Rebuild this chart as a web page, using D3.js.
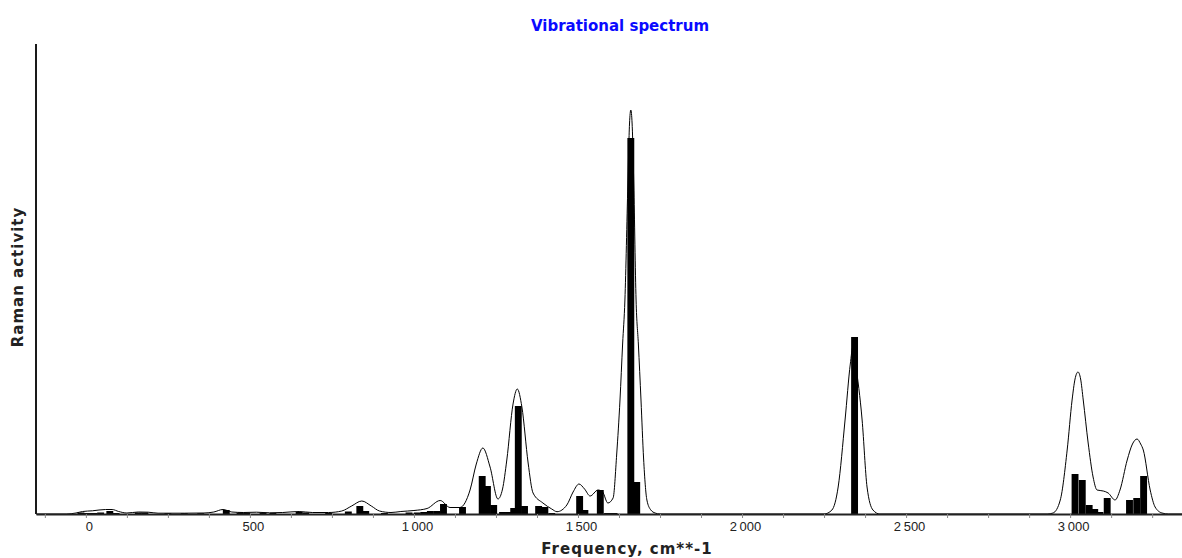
<!DOCTYPE html>
<html>
<head>
<meta charset="utf-8">
<script src="https://cdn.jsdelivr.net/npm/d3@7"></script>
<style>
  body { margin: 0; background: #fff; }
  svg { display: block; font-family: Arial, "Liberation Sans", sans-serif; }
</style>
</head>
<body>
<script>
// stick spectrum: [frequency cm-1, Raman activity]
const sticks = [
  [-15, 1.5], [5, 1], [25, 1], [45, 1.5], [73, 3], [92, 1], [160, 1.5], [180, 1.5],
  [250, 0.8], [300, 0.8], [350, 0.8], [428, 4], [470, 1.5], [490, 1.2], [540, 1.2],
  [570, 1], [650, 2], [670, 1.5], [740, 1], [800, 2.5], [835, 8], [853, 3], [910, 1],
  [985, 1.5], [1010, 1.5], [1030, 2], [1050, 3], [1070, 3], [1090, 10], [1148, 7],
  [1208, 38], [1224, 28], [1243, 9], [1270, 2], [1290, 2], [1304, 6], [1318, 108],
  [1337, 8], [1380, 8], [1399, 7], [1420, 1], [1505, 18], [1521, 4], [1568, 24],
  [1590, 1], [1610, 1], [1661, 376], [1679, 32], [2343, 177],
  [3015, 40], [3037, 34], [3058, 9], [3075, 5], [3091, 2], [3113, 16],
  [3181, 14], [3203, 16], [3224, 38]
];

// broadened envelope: [frequency, activity]
const envelope = [
  [-152, 0], [-60, 0], [-30, 1], [-10, 2.5], [20, 3.2], [60, 4.5], [80, 4.5], [100, 2.5],
  [125, 1], [160, 2], [190, 1.8], [220, 0.8], [300, 0.8], [360, 1], [390, 2], [418, 4.5],
  [445, 2], [480, 1.5], [520, 1.8], [560, 1.2], [600, 1.5], [650, 2.5], [690, 1.5],
  [740, 1.5], [780, 3], [810, 8], [841, 13], [870, 8], [895, 3], [930, 1.5], [960, 2.5],
  [1000, 3.5], [1040, 5.5], [1080, 13.5], [1110, 6.5], [1140, 6.5], [1171, 24],
  [1190, 50], [1210, 66], [1232, 47], [1256, 15], [1270, 25], [1283, 54], [1302, 110],
  [1315, 125], [1329, 107], [1348, 51], [1363, 21], [1393, 11], [1420, 5], [1436, 2.3],
  [1466, 9], [1485, 22], [1503, 30], [1520, 25], [1537, 18], [1561, 24], [1575, 22],
  [1591, 11], [1607, 16], [1618, 60], [1628, 114], [1636, 170], [1643, 214], [1652, 330],
  [1657, 390], [1661, 404], [1665, 390], [1670, 330], [1677, 214], [1684, 170],
  [1692, 114], [1700, 55], [1710, 14], [1722, 4], [1735, 1], [1750, 0],
  [2250, 0], [2274, 4], [2293, 27], [2314, 94], [2330, 150], [2338, 167], [2346, 150],
  [2366, 94], [2381, 27], [2399, 4], [2420, 0],
  [2930, 0], [2948, 1], [2970, 14], [2991, 64], [3006, 114], [3015, 135], [3024, 142],
  [3032, 135], [3040, 114], [3055, 71], [3070, 37], [3082, 24], [3101, 23], [3116, 21],
  [3137, 14], [3152, 24], [3174, 54], [3190, 70], [3204, 75], [3215, 70], [3223, 64],
  [3244, 24], [3259, 7], [3280, 1], [3300, 0], [3341, 0]
];

const xDomain = [-152, 3341];
const yMax = 470;
const tickStep = 125;
const labelStep = 500;

const width = 1182, height = 558;
const margin = { left: 36, right: 0, top: 44, bottom: 44 };
const binWidth = 21; // cm-1 width of each stick
const titleFont = "Verdana, 'DejaVu Sans', sans-serif";

const x = d3.scaleLinear().domain(xDomain).range([margin.left, width - margin.right]);
const y = d3.scaleLinear().domain([0, yMax]).range([height - margin.bottom, margin.top]);

const locale = d3.formatLocale({ decimal: ",", thousands: "\u2009", grouping: [3], currency: ["", ""] });
const fmt = locale.format(",d");

const svg = d3.select("body").append("svg")
  .attr("width", width)
  .attr("height", height);

// title
svg.append("text")
  .attr("x", 620).attr("y", 31)
  .attr("text-anchor", "middle")
  .style("font-family", titleFont)
  .style("font-size", "15px").style("font-weight", "bold")
  .attr("fill", "#0a0aff")
  .text("Vibrational spectrum");

// sticks
svg.append("g")
  .selectAll("rect")
  .data(sticks)
  .join("rect")
  .attr("x", d => x(d[0] - binWidth / 2))
  .attr("width", d => x(d[0] + binWidth / 2) - x(d[0] - binWidth / 2))
  .attr("y", d => y(d[1]))
  .attr("height", d => y(0) - y(d[1]))
  .attr("fill", "#000");

// envelope curve
const line = d3.line()
  .x(d => x(d[0]))
  .y(d => y(d[1]))
  .curve(d3.curveMonotoneX);

svg.append("path")
  .datum(envelope)
  .attr("d", line)
  .attr("fill", "none")
  .attr("stroke", "#000")
  .attr("stroke-width", 1);

// x axis
const ticks = d3.range(Math.ceil(xDomain[0] / tickStep) * tickStep, xDomain[1], tickStep);
const xAxis = d3.axisBottom(x)
  .tickValues(ticks)
  .tickSize(4)
  .tickSizeOuter(0)
  .tickFormat(d => d % labelStep === 0 ? fmt(d) : "");

const gx = svg.append("g")
  .attr("transform", `translate(0,${y(0)})`)
  .call(xAxis);
gx.select(".domain").attr("stroke", "#222").attr("stroke-width", 2);
gx.selectAll(".tick line").attr("stroke", "#888");
gx.selectAll(".tick text")
  .attr("dy", "0.75em")
  .attr("y", 7)
  .attr("dx", 3)
  .style("font-size", "13px")
  .style("font-family", "Arial, 'Liberation Sans', sans-serif")
  .attr("fill", "#222");

// y axis line (no ticks)
svg.append("line")
  .attr("x1", margin.left).attr("x2", margin.left)
  .attr("y1", margin.top).attr("y2", y(0))
  .attr("stroke", "#1a1a1a").attr("stroke-width", 2);

// axis titles
svg.append("text")
  .attr("x", 627).attr("y", 554)
  .attr("text-anchor", "middle")
  .style("font-family", titleFont)
  .style("font-size", "15px").style("font-weight", "bold")
  .style("letter-spacing", "1px")
  .attr("fill", "#222")
  .text("Frequency, cm**-1");

svg.append("text")
  .attr("transform", `translate(23,277) rotate(-90)`)
  .attr("text-anchor", "middle")
  .style("font-family", titleFont)
  .style("font-size", "15px").style("font-weight", "bold")
  .style("letter-spacing", "1px")
  .attr("fill", "#222")
  .text("Raman activity");
</script>
</body>
</html>
